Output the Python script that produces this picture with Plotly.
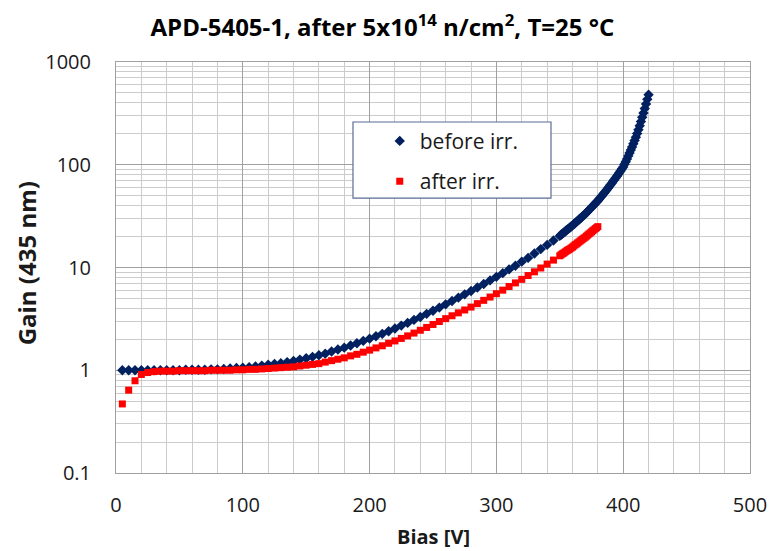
import plotly.graph_objects as go

# Bias voltages [V]
bias_before = [
    5, 10, 15, 20, 25, 30, 35, 40, 45, 50,
    55, 60, 65, 70, 75, 80, 85, 90, 95, 100,
    105, 110, 115, 120, 125, 130, 135, 140, 145, 150,
    155, 160, 165, 170, 175, 180, 185, 190, 195, 200,
    205, 210, 215, 220, 225, 230, 235, 240, 245, 250,
    255, 260, 265, 270, 275, 280, 285, 290, 295, 300,
    305, 310, 315, 320, 325, 330, 335, 340, 345, 350,
    351, 352, 353, 354, 355, 356, 357, 358, 359, 360,
    361, 362, 363, 364, 365, 366, 367, 368, 369, 370,
    371, 372, 373, 374, 375, 376, 377, 378, 379, 380,
    381, 382, 383, 384, 385, 386, 387, 388, 389, 390,
    391, 392, 393, 394, 395, 396, 397, 398, 399, 400,
    401, 402, 403, 404, 405, 406, 407, 408, 409, 410,
    411, 412, 413, 414, 415, 416, 417, 418, 419, 420,
]
gain_before = [
    1.00, 1.00, 1.00, 1.00, 1.00, 1.00, 1.00, 1.00, 1.00, 1.00,
    1.01, 1.01, 1.01, 1.01, 1.02, 1.02, 1.03, 1.04, 1.05, 1.06,
    1.07, 1.09, 1.11, 1.13, 1.15, 1.17, 1.20, 1.23, 1.27, 1.31,
    1.35, 1.40, 1.45, 1.52, 1.59, 1.66, 1.74, 1.83, 1.93, 2.03,
    2.14, 2.26, 2.40, 2.55, 2.72, 2.89, 3.09, 3.30, 3.54, 3.79,
    4.07, 4.38, 4.72, 5.09, 5.48, 5.90, 6.38, 6.91, 7.49, 8.11,
    8.81, 9.58, 10.4, 11.4, 12.4, 13.7, 15.1, 16.6, 18.3, 20.3,
    20.8, 21.3, 21.8, 22.3, 22.9, 23.4, 23.9, 24.5, 25.1, 25.7,
    26.4, 27.0, 27.7, 28.4, 29.2, 29.9, 30.7, 31.5, 32.3, 33.1,
    34.1, 35.2, 36.2, 37.3, 38.5, 39.6, 40.8, 42.1, 43.4, 44.7,
    46.2, 47.9, 49.5, 51.3, 53.1, 55.0, 57.0, 59.2, 61.4, 63.7,
    66.2, 68.9, 71.6, 74.5, 77.4, 80.5, 83.9, 87.5, 91.2, 95.1,
    101, 107, 114, 122, 130, 139, 149, 160, 172, 185,
    201, 219, 240, 263, 290, 319, 352, 390, 433, 480,
]

bias_after = [
    5, 10, 15, 20, 25, 30, 35, 40, 45, 50,
    55, 60, 65, 70, 75, 80, 85, 90, 95, 100,
    105, 110, 115, 120, 125, 130, 135, 140, 145, 150,
    155, 160, 165, 170, 175, 180, 185, 190, 195, 200,
    205, 210, 215, 220, 225, 230, 235, 240, 245, 250,
    255, 260, 265, 270, 275, 280, 285, 290, 295, 300,
    305, 310, 315, 320, 325, 330, 335, 340, 345, 350,
    351, 352, 353, 354, 355, 356, 357, 358, 359, 360,
    361, 362, 363, 364, 365, 366, 367, 368, 369, 370,
    371, 372, 373, 374, 375, 376, 377, 378, 379, 380,
]
gain_after = [
    0.47, 0.64, 0.79, 0.91, 0.95, 0.97, 0.98, 0.98, 0.98, 0.99,
    0.99, 0.99, 0.99, 0.99, 1.00, 1.00, 1.00, 1.00, 1.01, 1.01,
    1.02, 1.02, 1.03, 1.04, 1.05, 1.06, 1.07, 1.08, 1.10, 1.12,
    1.14, 1.16, 1.20, 1.24, 1.28, 1.32, 1.38, 1.43, 1.50, 1.57,
    1.65, 1.73, 1.83, 1.93, 2.04, 2.16, 2.30, 2.45, 2.61, 2.79,
    2.98, 3.18, 3.39, 3.62, 3.86, 4.12, 4.45, 4.79, 5.16, 5.56,
    6.02, 6.53, 7.08, 7.67, 8.35, 9.08, 9.89, 10.8, 11.8, 13.0,
    13.3, 13.6, 13.8, 14.1, 14.4, 14.7, 14.9, 15.2, 15.5, 15.8,
    16.2, 16.6, 16.9, 17.3, 17.7, 18.1, 18.5, 18.9, 19.3, 19.7,
    20.2, 20.7, 21.2, 21.7, 22.2, 22.8, 23.3, 23.9, 24.4, 25.0,
]

x_ticks = [0, 100, 200, 300, 400, 500]
y_ticks = [0.1, 1, 10, 100, 1000]
y_tick_text = ["0.1", "1", "10", "100", "1000"]

FONT = "'Open Sans', Lato, sans-serif"
NAVY = "#002060"
RED = "#ff0000"
MAJOR_GRID = "#a0a0a0"
MINOR_GRID = "#cccccc"
TEXT = "#1a1a1a"

fig = go.Figure()
fig.add_trace(go.Scatter(
    x=bias_before, y=gain_before, mode="markers", name="before irr.",
    legendgroup="a",
    marker=dict(symbol="diamond", size=8, color=NAVY, line=dict(width=0)),
))
fig.add_trace(go.Scatter(
    x=bias_after, y=gain_after, mode="markers", name="after irr.",
    legendgroup="b",
    marker=dict(symbol="square", size=7, color=RED, line=dict(width=0)),
))

fig.update_layout(
    width=771, height=551,
    margin=dict(l=116, r=21, t=62, b=78, autoexpand=False),
    paper_bgcolor="white", plot_bgcolor="white",
    font=dict(family=FONT, size=20, color=TEXT),
    title=dict(
        text="<b>APD-5405-1, after 5x10<sup>14</sup> n/cm<sup>2</sup>, T=25 °C</b>",
        x=0.496, xanchor="center", y=0.95, yanchor="middle",
        xref="container", yref="container",
        font=dict(family=FONT, size=24, color="#000000"),
    ),
    legend=dict(
        x=0.416, y=0.857, xanchor="left", yanchor="top",
        bgcolor="rgba(0,0,0,0)", borderwidth=0,
        font=dict(family=FONT, size=21, color=TEXT),
        tracegroupgap=10,
    ),
    showlegend=True,
)

fig.update_xaxes(
    range=[0, 500], tickvals=x_ticks, ticks="", ticklabelstandoff=14,
    automargin=False,
    showgrid=True, gridcolor=MAJOR_GRID, gridwidth=1,
    minor=dict(dtick=20, showgrid=True, gridcolor=MINOR_GRID, gridwidth=1),
    showline=True, mirror=True, linecolor=MAJOR_GRID, linewidth=1,
    zeroline=False,
)
fig.update_yaxes(
    type="log", range=[-1, 3], tickvals=y_ticks, ticktext=y_tick_text,
    ticks="", ticklabelstandoff=20, automargin=False,
    showgrid=True, gridcolor=MAJOR_GRID, gridwidth=1,
    minor=dict(dtick="D1", showgrid=True, gridcolor=MINOR_GRID, gridwidth=1),
    showline=True, mirror=True, linecolor=MAJOR_GRID, linewidth=1,
    zeroline=False,
)

# Legend frame
fig.add_shape(
    type="rect", xref="paper", yref="paper",
    x0=0.3738, x1=0.6861, y0=0.669, y1=0.854,
    line=dict(color="#5b6b95", width=1.2), fillcolor="white", layer="above",
)

# Axis titles
fig.add_annotation(
    text="<b>Bias [V]</b>", xref="paper", yref="paper",
    x=0.5, y=-0.155, xanchor="center", yanchor="middle", showarrow=False,
    font=dict(family=FONT, size=20, color=TEXT),
)
fig.add_annotation(
    text="<b>Gain (435 nm)</b>", xref="paper", yref="paper",
    x=-0.142, y=0.51, xanchor="center", yanchor="middle", showarrow=False,
    textangle=-90, font=dict(family=FONT, size=24, color=TEXT),
)

fig.write_html("out.html")
